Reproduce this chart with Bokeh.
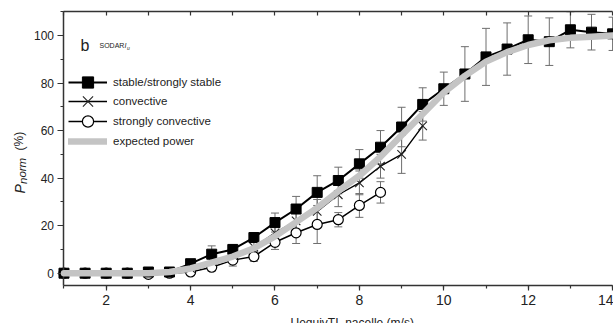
from bokeh.plotting import figure
from bokeh.models import (Range1d, LinearAxis, SingleIntervalTicker, Whisker, TeeHead,
                          ColumnDataSource, Legend, LegendItem, Label, CustomJSTickFormatter)
from bokeh.embed import file_html
from bokeh.resources import INLINE

FONT = "Liberation Sans"

# Normalised power (%) per wind-speed bin (m/s), binned by stability class
wind_stable = [1.0, 1.5, 2.0, 2.5, 3.0, 3.5, 4.0, 4.5, 5.0, 5.5, 6.0, 6.5, 7.0, 7.5,
               8.0, 8.5, 9.0, 9.5, 10.0, 10.5, 11.0, 11.5, 12.0, 12.5, 13.0, 13.5, 14.0]
p_stable = [0.0, 0.0, 0.0, 0.0, 0.5, 0.5, 4.0, 8.0, 10.0, 15.0, 21.3, 27.0, 34.0, 39.0,
            46.0, 53.0, 61.5, 71.0, 77.6, 83.8, 91.0, 94.3, 98.2, 97.4, 102.4, 101.4, 100.7]
err_stable = [1.0, 1.0, 1.0, 1.0, 1.0, 1.0, 1.5, 3.5, 2.0, 2.0, 4.0, 5.3, 7.0, 5.6,
              6.0, 7.0, 8.3, 7.0, 7.0, 11.5, 12.0, 11.0, 10.0, 10.0, 7.6, 7.5, 7.0]

wind_conv = [1.0, 1.5, 2.0, 2.5, 3.0, 3.5, 4.0, 4.5, 5.0, 5.5, 6.0, 6.5, 7.0, 7.5,
             8.0, 8.5, 9.0, 9.5]
p_conv = [0.0, 0.0, 0.0, 0.0, 0.5, 0.5, 2.0, 5.0, 7.5, 11.0, 17.0, 22.0, 26.0, 33.0,
          38.0, 45.0, 50.0, 62.0]
err_conv = [1.0, 1.0, 1.0, 1.0, 1.0, 1.0, 1.0, 2.0, 2.5, 3.0, 3.0, 4.0, 5.0, 5.0,
            5.0, 5.0, 8.0, 6.0]

wind_strong = [1.0, 1.5, 2.0, 2.5, 3.0, 3.5, 4.0, 4.5, 5.0, 5.5, 6.0, 6.5, 7.0, 7.5,
               8.0, 8.5]
p_strong = [0.0, 0.0, 0.0, 0.0, -0.5, 0.0, 0.5, 2.5, 5.5, 7.0, 13.0, 17.0, 20.5, 22.5,
            28.5, 34.0]
err_strong = [1.0, 1.0, 1.0, 1.0, 1.0, 1.0, 1.0, 1.5, 2.5, 2.0, 3.0, 4.5, 8.0, 3.0,
              5.0, 4.5]

wind_expected = [1.0, 1.5, 2.0, 2.5, 3.0, 3.5, 4.0, 4.5, 5.0, 5.5, 6.0, 6.5, 7.0, 7.5,
                 8.0, 8.5, 9.0, 9.5, 10.0, 10.5, 11.0, 11.5, 12.0, 12.5, 13.0, 13.5, 14.0]
p_expected = [0.0, 0.0, 0.0, 0.0, 0.0, 0.5, 2.0, 4.5, 7.0, 10.5, 15.5, 21.5, 27.5, 34.5,
              41.0, 49.0, 58.0, 67.0, 76.0, 83.0, 89.0, 93.0, 96.0, 98.0, 99.0, 99.5, 100.0]

# axis extents (data units)
X_MIN, X_MAX = 1, 14
Y_MIN, Y_MAX = -5, 110


def source(x, y, e):
    return ColumnDataSource(dict(x=x, y=y,
                                 lower=[a - b for a, b in zip(y, e)],
                                 upper=[a + b for a, b in zip(y, e)]))


src_stable = source(wind_stable, p_stable, err_stable)
src_conv = source(wind_conv, p_conv, err_conv)
src_strong = source(wind_strong, p_strong, err_strong)

# the frame fills the whole canvas; axes sit at fixed data positions inside it
p = figure(width=613, height=323, output_backend="svg", toolbar_location=None,
           x_range=Range1d(-0.5047, 14.0213), y_range=Range1d(-21.16, 114.72),
           min_border=0, x_axis_location=None, y_axis_location=None)
p.outline_line_color = None
p.xgrid.visible = False
p.ygrid.visible = False
p.background_fill_color = "white"
p.border_fill_color = "white"

AX = "#333333"


def style_axis(ax, label_size):
    ax.axis_line_color = AX
    ax.axis_line_width = 1.5
    ax.major_tick_line_color = AX
    ax.minor_tick_line_color = AX
    ax.major_tick_line_width = 1.2
    ax.minor_tick_line_width = 1.2
    ax.major_label_text_font = FONT
    ax.major_label_text_font_size = label_size
    ax.major_label_text_color = "#222222"


xb = LinearAxis(ticker=SingleIntervalTicker(interval=2, num_minor_ticks=2),
                fixed_location=Y_MIN, bounds=(X_MIN, X_MAX))
style_axis(xb, "14px")
xb.major_tick_out = 5
xb.major_tick_in = 0
xb.minor_tick_out = 3
xb.minor_tick_in = 0
xb.major_label_standoff = 5
p.add_layout(xb, "below")

xt = LinearAxis(ticker=SingleIntervalTicker(interval=1, num_minor_ticks=0),
                formatter=CustomJSTickFormatter(code="return ''"),
                fixed_location=Y_MAX, bounds=(X_MIN, X_MAX))
style_axis(xt, "10px")
xt.major_tick_out = 0
xt.major_tick_in = 4
xt.minor_tick_out = 0
xt.minor_tick_in = 0
xt.major_label_standoff = 0
p.add_layout(xt, "above")

yl = LinearAxis(ticker=SingleIntervalTicker(interval=20, num_minor_ticks=2),
                fixed_location=X_MIN, bounds=(Y_MIN, Y_MAX))
style_axis(yl, "12px")
yl.major_tick_out = 6
yl.major_tick_in = 0
yl.minor_tick_out = 3
yl.minor_tick_in = 0
yl.major_label_standoff = 4
p.add_layout(yl, "left")

# error bars
for src in (src_stable, src_conv, src_strong):
    w = Whisker(base="x", lower="lower", upper="upper", source=src,
                line_color="#6e6e6e", line_width=1,
                upper_head=TeeHead(size=8, line_color="#6e6e6e", line_width=1),
                lower_head=TeeHead(size=8, line_color="#6e6e6e", line_width=1))
    p.add_layout(w)

# stability classes
l_strong = p.line("x", "y", source=src_strong, line_color="black", line_width=1.5)
m_strong = p.scatter("x", "y", source=src_strong, marker="circle", size=10,
                     fill_color="white", line_color="black", line_width=1.2)
l_conv = p.line("x", "y", source=src_conv, line_color="black", line_width=1.4)
m_conv = p.scatter("x", "y", source=src_conv, marker="x", size=12,
                   line_color="#222222", line_width=1.1)
l_stable = p.line("x", "y", source=src_stable, line_color="black", line_width=2)
m_stable = p.scatter("x", "y", source=src_stable, marker="square", size=10,
                     fill_color="black", line_color="black")

# expected power curve
l_exp = p.line(wind_expected, p_expected, line_color="#c4c4c4", line_width=6.5,
               line_cap="round", line_join="round", level="overlay")

# one single-row legend per entry so the rows can sit closer than the glyph box;
# the glyph box height sets the size of the legend marker
entries = [("stable/strongly stable", [l_stable, m_stable], 82, 28),
           ("convective", [l_conv, m_conv], 100.5, 36),
           ("strongly convective", [l_strong, m_strong], 121, 28),
           ("expected power", [l_exp], 141, 28)]
for label, rends, centre, box in entries:
    lg = Legend(items=[LegendItem(label=label, renderers=rends)],
                location=(68, 323 - centre - box / 2))
    lg.padding = 0
    lg.margin = 0
    lg.spacing = 0
    lg.glyph_width = 39
    lg.glyph_height = box
    lg.label_height = box
    lg.label_standoff = 6
    lg.label_text_font = FONT
    lg.label_text_font_size = "11.5px"
    lg.label_text_color = "#222222"
    lg.border_line_color = None
    lg.background_fill_alpha = 0
    p.add_layout(lg)


def txt(x, y, t, size, style="normal", angle=0.0):
    p.add_layout(Label(x=x, y=y, x_units="screen", y_units="screen", text=t,
                       text_font=FONT, text_font_size=size, text_font_style=style,
                       text_color="#222222", angle=angle, text_align="left",
                       text_baseline="alphabetic"))


# panel tag
txt(80, 278, "b", "16px")
txt(99, 278, "SODAR", "7px")
txt(124, 278, "I", "7px", "italic")
txt(126.5, 276, "u", "5px", "italic")

# axis titles
txt(19, 130, "P", "14px", "italic", angle=1.5708)
txt(22, 139.5, "norm", "11.5px", "italic", angle=1.5708)
txt(19, 173, "(%)", "12px", angle=1.5708)
txt(290, 1, "UequivTI_nacelle (m/s)", "12px")

open("out.html", "w").write(file_html(p, INLINE))
